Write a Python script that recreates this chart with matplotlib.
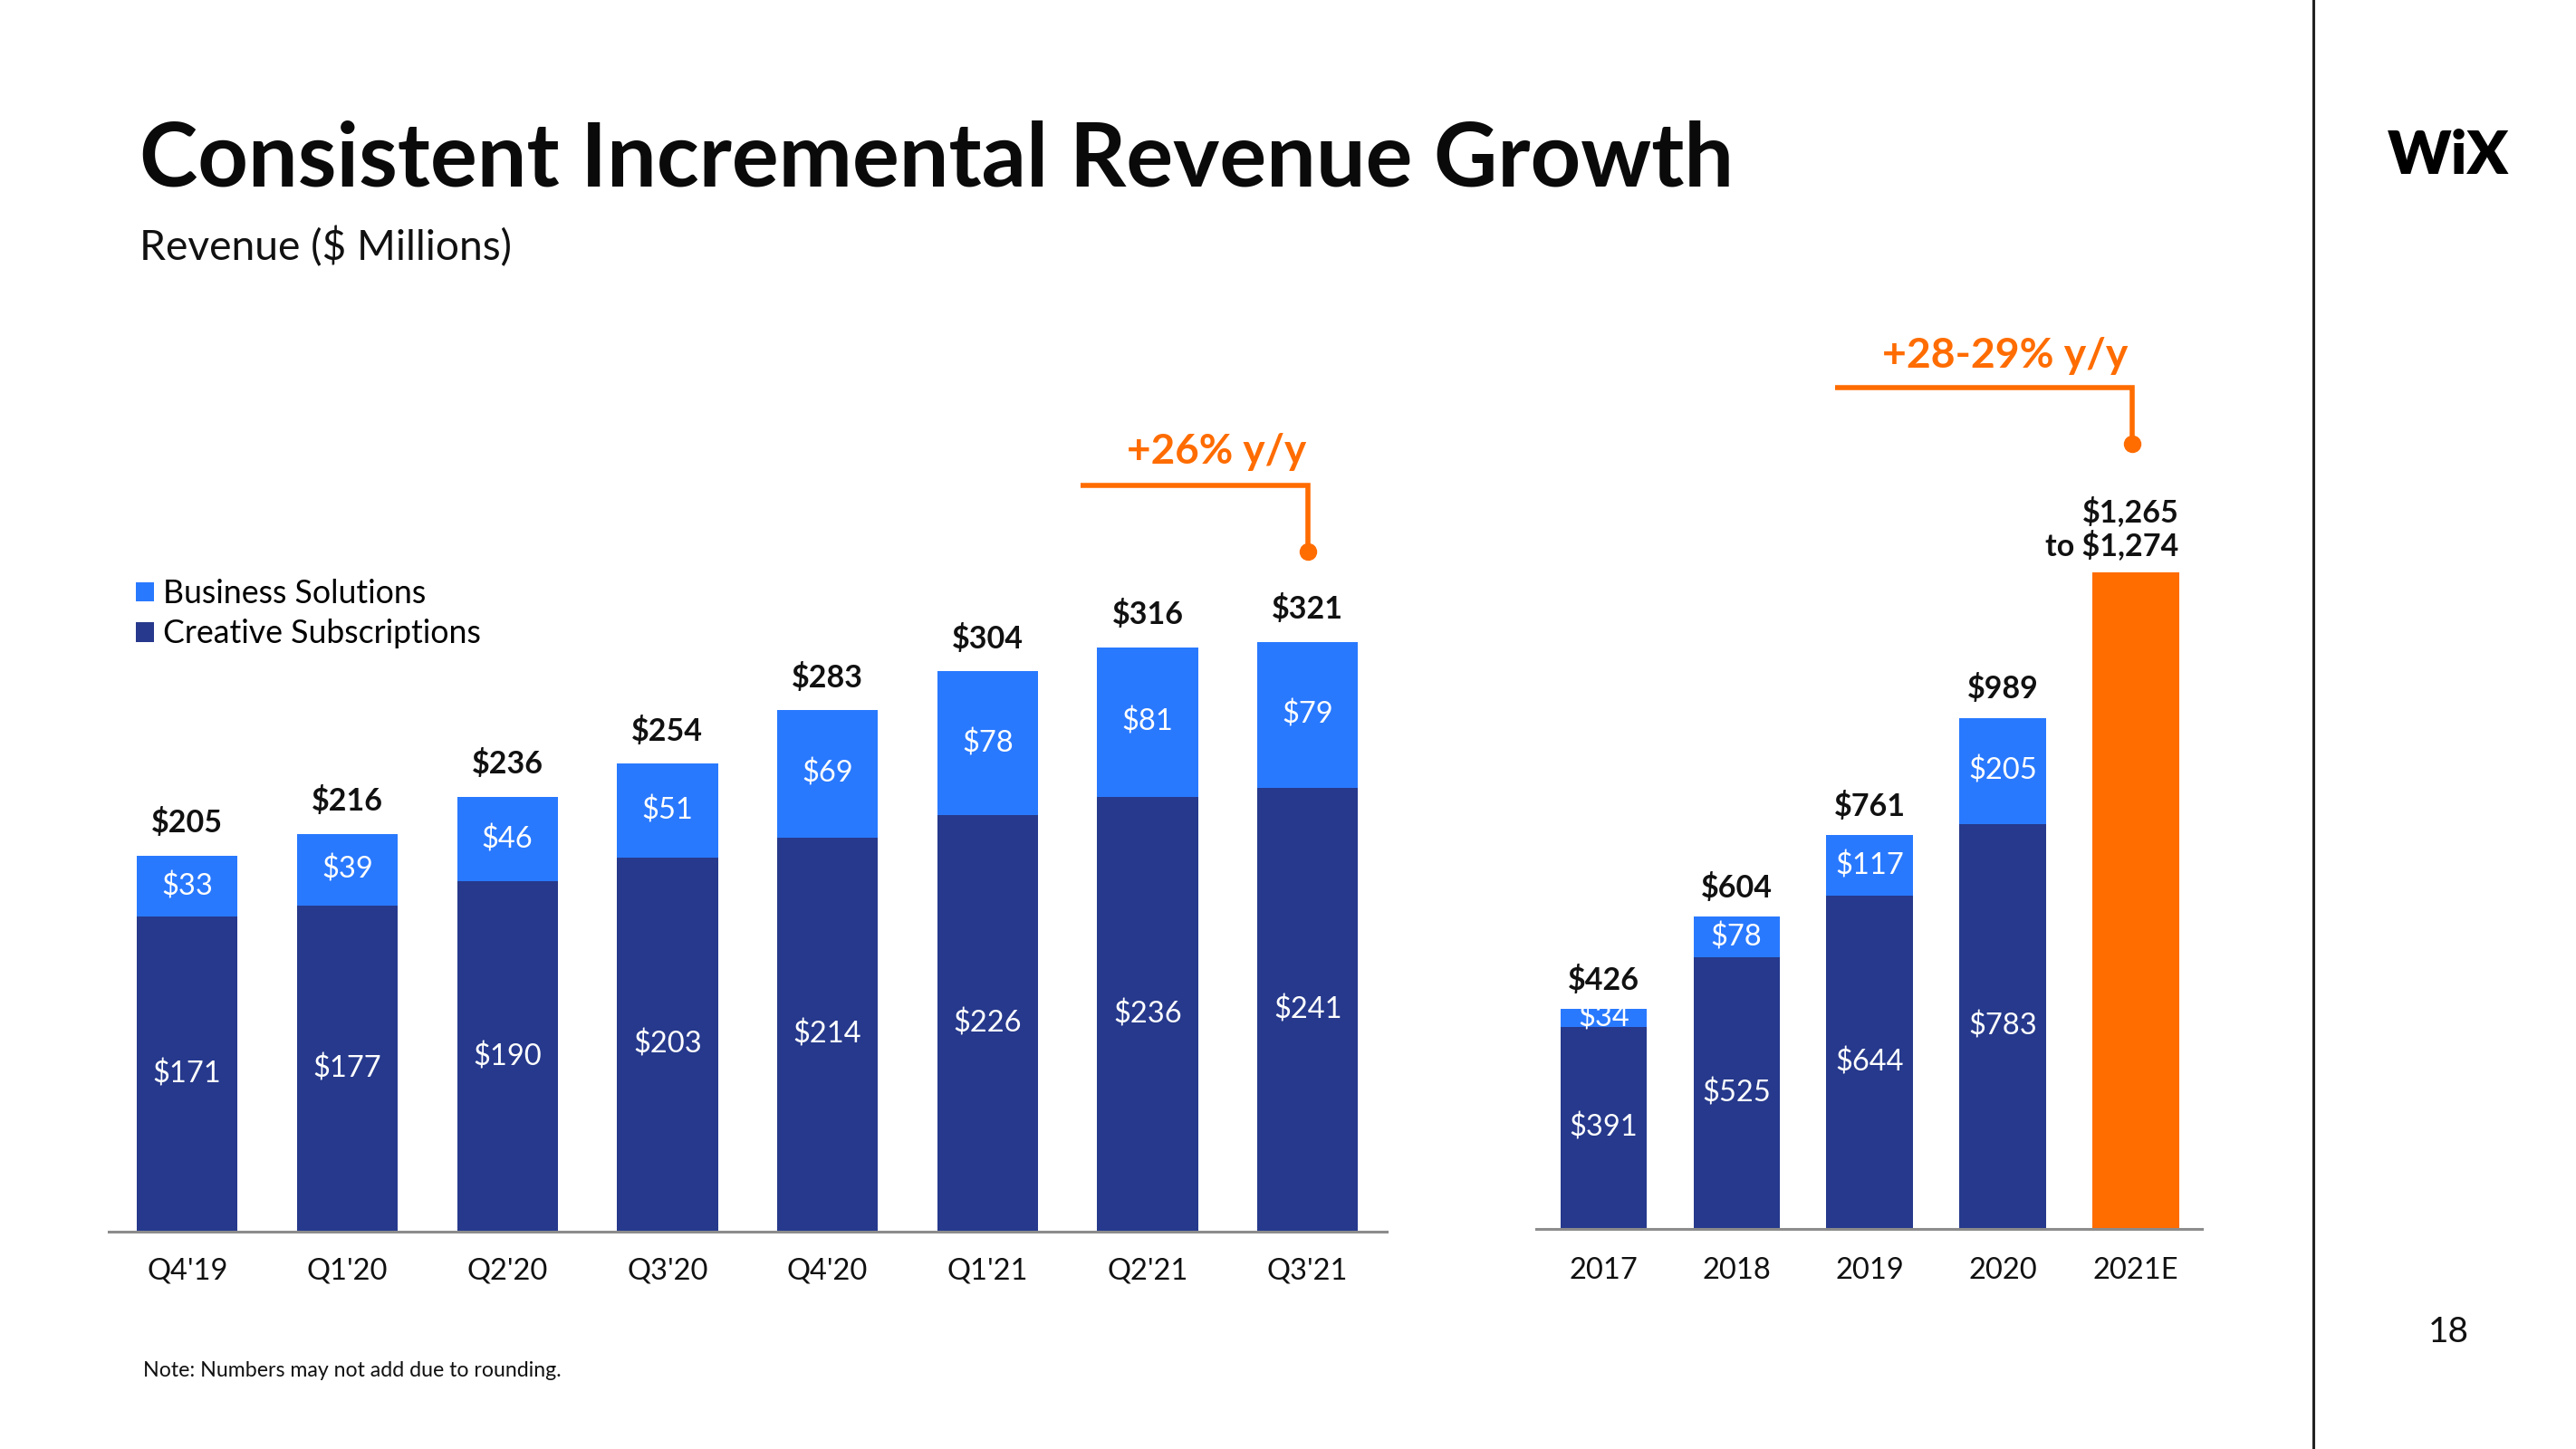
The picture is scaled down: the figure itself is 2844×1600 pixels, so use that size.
import matplotlib
matplotlib.use("Agg")
import matplotlib.pyplot as plt
from matplotlib.lines import Line2D

# ---------------- data ----------------
quarters = ["Q4'19", "Q1'20", "Q2'20", "Q3'20", "Q4'20", "Q1'21", "Q2'21", "Q3'21"]
creative_q = [171, 177, 190, 203, 214, 226, 236, 241]
business_q = [33, 39, 46, 51, 69, 78, 81, 79]
total_q = [205, 216, 236, 254, 283, 304, 316, 321]

years = ["2017", "2018", "2019", "2020", "2021E"]
creative_y = [391, 525, 644, 783]
business_y = [34, 78, 117, 205]
total_y = [426, 604, 761, 989]
guide_low, guide_high = 1265, 1274

growth_q_label = "+26% y/y"
growth_y_label = "+28-29% y/y"

# ---------------- style ----------------
NAVY = "#26398C"
BLUE = "#2979FF"
ORANGE = "#FF6C00"
AXIS = "#8C8C8C"
plt.rcParams['font.family'] = ["Lato", "DejaVu Sans"]

W, H = 2844, 1600
fig = plt.figure(figsize=(W / 100, H / 100), dpi=100)
fig.patch.set_facecolor("white")


def fx(x):
    return x / W


def fy(y):
    return 1 - y / H


def style_axis(ax, labels, pad):
    for s in ("top", "left", "right"):
        ax.spines[s].set_visible(False)
    ax.spines["bottom"].set_color(AXIS)
    ax.spines["bottom"].set_linewidth(2.2)
    ax.set_yticks([])
    ax.set_xticks(range(len(labels)), labels)
    ax.tick_params(axis="x", length=0, pad=pad, labelsize=23.5, labelcolor="#111111")
    ax.patch.set_alpha(0)


LBL = 23.5
TOT = 24.5

# ---------------- quarterly chart ----------------
axq = fig.add_axes([fx(120), fy(1360), (1531 - 120) / W, (1360 - 300) / H])
axq.set_xlim(-0.491, 7.494)
axq.set_ylim(0, 521)
xq = list(range(len(quarters)))
bq1 = axq.bar(xq, creative_q, width=0.63, color=NAVY)
bq2 = axq.bar(xq, business_q, bottom=creative_q, width=0.63, color=BLUE)
for i in xq:
    axq.text(i, creative_q[i] / 2, f"${creative_q[i]}", ha="center", va="center",
             color="white", fontsize=LBL)
    axq.text(i, creative_q[i] + business_q[i] / 2, f"${business_q[i]}", ha="center",
             va="center", color="white", fontsize=LBL)
    axq.annotate(f"${total_q[i]}", (i, creative_q[i] + business_q[i]), xytext=(0, 26),
                 textcoords="offset points", ha="center", va="center",
                 fontsize=TOT, weight="bold", color="#111111")
style_axis(axq, quarters, 20.5)

axq.plot([5.58, 7, 7], [405, 405, 369], color=ORANGE, lw=4, clip_on=False,
         solid_joinstyle="miter", solid_capstyle="butt")
axq.plot([7], [369], "o", color=ORANGE, ms=13, clip_on=False)
tq = axq.text(6.43, 423, growth_q_label, ha="center", va="center", color=ORANGE,
              fontsize=30, weight="bold")

# ---------------- annual chart ----------------
axy = fig.add_axes([fx(1696), fy(1357), (2431 - 1696) / W, (1357 - 300) / H])
axy.set_xlim(-0.506, 4.497)
axy.set_ylim(0, 1850)
xy = list(range(len(creative_y)))
axy.bar(xy, creative_y, width=0.65, color=NAVY)
axy.bar(xy, business_y, bottom=creative_y, width=0.65, color=BLUE)
guide_mid = (guide_low + guide_high) / 2
axy.bar([4], [guide_mid], width=0.65, color=ORANGE)
for i in xy:
    axy.text(i, creative_y[i] / 2, f"${creative_y[i]}", ha="center", va="center",
             color="white", fontsize=LBL)
    axy.text(i, creative_y[i] + business_y[i] / 2, f"${business_y[i]}", ha="center",
             va="center", color="white", fontsize=LBL)
    axy.annotate(f"${total_y[i]}", (i, creative_y[i] + business_y[i]), xytext=(0, 23),
                 textcoords="offset points", ha="center", va="center",
                 fontsize=TOT, weight="bold", color="#111111")
axy.annotate(f"${guide_low:,}", (4 + 0.325, guide_mid), xytext=(0, 48),
             textcoords="offset points", ha="right", va="center",
             fontsize=TOT, weight="bold", color="#111111")
axy.annotate(f"to ${guide_high:,}", (4 + 0.325, guide_mid), xytext=(0, 21),
             textcoords="offset points", ha="right", va="center",
             fontsize=TOT, weight="bold", color="#111111")
style_axis(axy, years, 22.5)

axy.plot([1.74, 3.97, 3.97], [1626, 1626, 1518], color=ORANGE, lw=4, clip_on=False,
         solid_joinstyle="miter", solid_capstyle="butt")
axy.plot([3.97], [1518], "o", color=ORANGE, ms=13, clip_on=False)
ty = axy.text(3.02, 1687, growth_y_label, ha="center", va="center", color=ORANGE,
              fontsize=30, weight="bold")

# ---------------- legend ----------------
fig.legend([bq2, bq1], ["Business Solutions", "Creative Subscriptions"],
           loc="upper left", bbox_to_anchor=(fx(150), fy(639)), frameon=False,
           fontsize=25.7, handlelength=0.55, handleheight=0.55, handletextpad=0.3,
           labelspacing=0.32, borderaxespad=0, borderpad=0)

# ---------------- page furniture ----------------
title = fig.text(fx(154), fy(205), "Consistent Incremental Revenue Growth",
                 ha="left", va="baseline", fontsize=67, weight="bold", color="#0a0a0a")
sub = fig.text(fx(154), fy(287), "Revenue ($ Millions)", ha="left", va="baseline",
               fontsize=30, color="#111111")
note = fig.text(fx(158), fy(1514), "Note: Numbers may not add due to rounding.",
                ha="left", va="center", fontsize=15, color="#111111")
logo = fig.text(fx(2703), fy(172), "WiX", ha="center", va="center", fontsize=56,
                weight="heavy", color="#000000")
fig.text(fx(2703), fy(1471), "18", ha="center", va="center", fontsize=28, color="#111111")
fig.add_artist(Line2D([fx(2554), fx(2554)], [0, 1], color="#222222", lw=2.2))

# fit text widths to the reference layout
renderer = fig.canvas.get_renderer()
for t, target in [(title, 1760), (sub, 410), (note, 464), (logo, 134),
                  (tq, 198), (ty, 271)]:
    w = t.get_window_extent(renderer).width
    t.set_fontsize(t.get_fontsize() * target / w)

fig.savefig("out.png", dpi=100, facecolor="white")
